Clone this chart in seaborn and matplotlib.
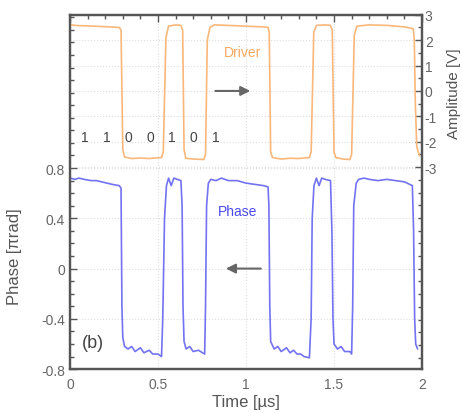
import pandas as pd
import matplotlib.pyplot as plt
import seaborn as sns
from matplotlib.ticker import MultipleLocator, FixedLocator

# driver trace (time in us, amplitude in V)
drv_t = [0.00, 0.05, 0.10, 0.20, 0.28, 0.290, 0.300, 0.310, 0.35, 0.40, 0.45, 0.52,
         0.530, 0.545, 0.560, 0.60, 0.630, 0.640, 0.648, 0.658, 0.70, 0.760, 0.770,
         0.780, 0.795, 0.82, 0.90, 1.00, 1.10, 1.125, 1.132, 1.140, 1.150, 1.20, 1.25,
         1.30, 1.36, 1.370, 1.385, 1.400, 1.45, 1.480, 1.490, 1.500, 1.510, 1.55, 1.590,
         1.600, 1.615, 1.630, 1.70, 1.80, 1.90, 1.950, 1.956, 1.962, 1.970, 1.985]
drv_v = [2.60, 2.57, 2.56, 2.53, 2.50, 2.40, -2.30, -2.60, -2.66, -2.64, -2.66, -2.62,
         -2.40, 2.10, 2.55, 2.60, 2.58, 2.40, -2.30, -2.65, -2.68, -2.70, -2.50,
         2.00, 2.50, 2.60, 2.58, 2.55, 2.52, 2.50, 2.30, -2.40, -2.62, -2.68, -2.65,
         -2.66, -2.62, -2.40, 2.30, 2.58, 2.60, 2.58, 2.40, -2.40, -2.62, -2.68, -2.70,
         -2.50, 2.20, 2.55, 2.60, 2.58, 2.52, 2.45, 2.00, -0.50, -2.20, -2.55]

# phase trace (time in us, phase in pi rad)
ph_t = [0.00, 0.03, 0.05, 0.08, 0.12, 0.15, 0.18, 0.21, 0.24, 0.28, 0.290, 0.295,
        0.300, 0.310, 0.33, 0.35, 0.37, 0.40, 0.42, 0.45, 0.47, 0.50, 0.52, 0.527,
        0.537, 0.548, 0.560, 0.575, 0.590, 0.610, 0.630, 0.637, 0.642, 0.648, 0.66,
        0.68, 0.70, 0.73, 0.765, 0.770, 0.776, 0.786, 0.80, 0.83, 0.86, 0.90, 0.95,
        1.00, 1.05, 1.10, 1.125, 1.130, 1.135, 1.140, 1.16, 1.18, 1.20, 1.23, 1.25,
        1.27, 1.29, 1.31, 1.33, 1.36, 1.370, 1.376, 1.386, 1.400, 1.415, 1.430, 1.450,
        1.480, 1.488, 1.494, 1.500, 1.52, 1.54, 1.56, 1.59, 1.600, 1.606, 1.612, 1.626,
        1.64, 1.67, 1.70, 1.75, 1.80, 1.85, 1.90, 1.945, 1.952, 1.958, 1.964, 1.975]
ph_v = [0.72, 0.71, 0.72, 0.71, 0.70, 0.70, 0.69, 0.68, 0.67, 0.66, 0.64, -0.30,
        -0.55, -0.62, -0.64, -0.62, -0.66, -0.63, -0.67, -0.65, -0.68, -0.68, -0.70, -0.40,
        0.40, 0.66, 0.72, 0.66, 0.72, 0.71, 0.70, 0.50, -0.30, -0.58, -0.64,
        -0.62, -0.66, -0.65, -0.68, -0.30, 0.50, 0.68, 0.71, 0.70, 0.72, 0.70, 0.70,
        0.68, 0.67, 0.66, 0.65, 0.50, -0.30, -0.58, -0.64, -0.62, -0.66, -0.63, -0.67,
        -0.65, -0.68, -0.68, -0.70, -0.71, -0.40, 0.40, 0.66, 0.72, 0.66, 0.72, 0.71,
        0.70, 0.30, -0.40, -0.60, -0.64, -0.62, -0.66, -0.66, -0.68, -0.30, 0.50, 0.68,
        0.71, 0.72, 0.71, 0.70, 0.71, 0.70, 0.69, 0.66, 0.30, -0.40, -0.60, -0.64]

bits = ["1", "1", "0", "0", "1", "0", "1"]
bit_t = [0.085, 0.21, 0.33, 0.455, 0.58, 0.70, 0.83]

drv = pd.DataFrame({"t": drv_t, "v": drv_v})
ph = pd.DataFrame({"t": ph_t, "v": ph_v})

sns.set_style("white")
plt.rcParams["font.family"] = ["Liberation Sans", "DejaVu Sans"]

fig = plt.figure(figsize=(4.62, 4.14), dpi=100)
ax = fig.add_axes([0.1515, 0.106, 0.762, 0.856])
ax2 = ax.twinx()

sns.lineplot(data=ph, x="t", y="v", ax=ax, color="#7272f2", lw=1.2, estimator=None, sort=False)
sns.lineplot(data=drv, x="t", y="v", ax=ax2, color="#f9b77a", lw=1.2, estimator=None, sort=False)

ax.set_xlim(0, 2)
ax.set_ylim(-0.8, 2.02)
ax2.set_ylim(-10.95, 3)

ax.xaxis.set_minor_locator(MultipleLocator(0.1))
ax.set_xticks([0, 0.5, 1, 1.5, 2])
ax.set_xticklabels(["0", "0.5", "1", "1.5", "2"])
ax.yaxis.set_major_locator(FixedLocator([-0.8, -0.4, 0, 0.4, 0.8]))
ax.yaxis.set_minor_locator(MultipleLocator(0.1))
ax.set_yticklabels(["-0.8", "-0.4", "0", "0.4", "0.8"])
ax2.yaxis.set_major_locator(FixedLocator([-3, -2, -1, 0, 1, 2, 3]))
ax2.yaxis.set_minor_locator(MultipleLocator(0.5))
ax2.set_yticklabels(["-3", "-2", "-1", "0", "1", "2", "3"])

for a in (ax, ax2):
    a.tick_params(which="both", direction="in", colors="#555555", labelcolor="#666666",
                  labelsize=10, width=1.0)
    a.tick_params(which="major", length=5)
    a.tick_params(which="minor", length=3)
    for s in a.spines.values():
        s.set_color("#555555")
        s.set_linewidth(1.6)
ax.tick_params(axis="x", which="both", top=True, pad=6)
ax2.tick_params(axis="y", pad=2)

ax.grid(True, color="#dddddd", lw=0.8, ls=":")
ax2.grid(True, axis="y", color="#dddddd", lw=0.8, ls=":")

ax.set_xlabel("Time [µs]", fontsize=12, color="#555555", labelpad=2)
ax.set_ylabel("Phase [πrad]", fontsize=12, color="#555555")
ax.yaxis.set_label_coords(-0.135, 0.32)
ax2.set_ylabel("Amplitude [V]", fontsize=11, color="#555555")
ax2.yaxis.set_label_coords(1.07, 0.78)

ax2.text(0.98, 1.55, "Driver", color="#f9a860", fontsize=10, ha="center", va="center")
ax.text(0.95, 0.46, "Phase", color="#4a4aee", fontsize=10, ha="center", va="center")
for b, t in zip(bits, bit_t):
    ax2.text(t, -1.8, b, color="#444444", fontsize=10, ha="center", va="center")
ax.text(0.13, -0.59, "(b)", color="#444444", fontsize=13, ha="center", va="center")

ax2.annotate("", xy=(1.04, 0.0), xytext=(0.81, 0.0),
             arrowprops=dict(arrowstyle="-|>", color="#666666", lw=1.5, mutation_scale=14))
ax.annotate("", xy=(0.87, 0.0), xytext=(1.10, 0.0),
            arrowprops=dict(arrowstyle="-|>", color="#666666", lw=1.5, mutation_scale=14))

fig.savefig("out.png", dpi=100)
